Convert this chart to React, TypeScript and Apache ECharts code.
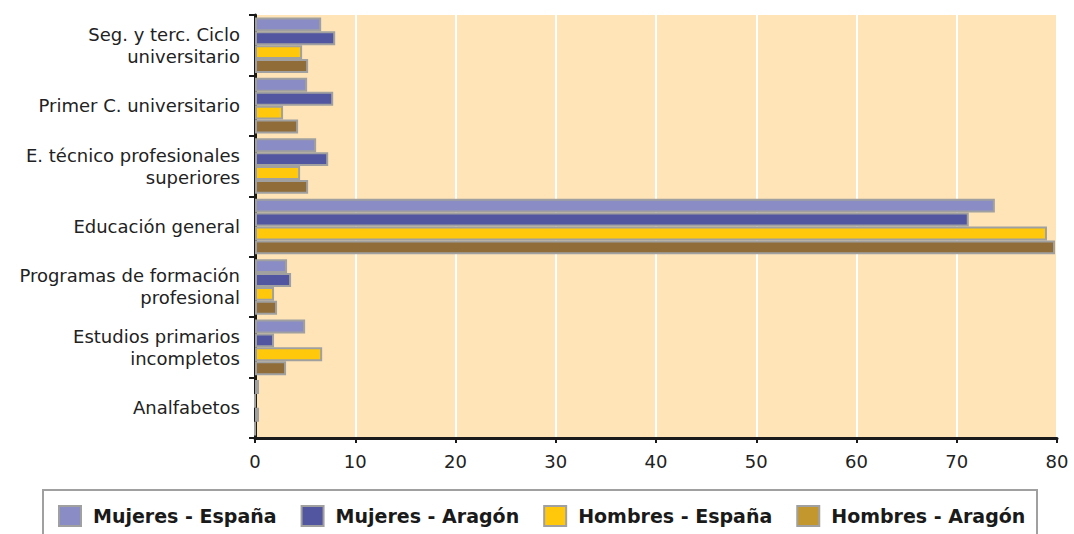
import React, { useEffect, useRef } from "react";
import * as echarts from "echarts";

const categories = [
  "Seg. y terc. Ciclo\nuniversitario",
  "Primer C. universitario",
  "E. técnico profesionales\nsuperiores",
  "Educación general",
  "Programas de formación\nprofesional",
  "Estudios primarios\nincompletos",
  "Analfabetos",
];

const seriesNames = ["Mujeres - España", "Mujeres - Aragón", "Hombres - España", "Hombres - Aragón"];

const mujeresEspana = [6.6, 5.2, 6.1, 73.8, 3.2, 5.0, 0.4];
const mujeresAragon = [8.0, 7.8, 7.3, 71.2, 3.6, 1.9, 0];
const hombresEspana = [4.7, 2.8, 4.5, 79.0, 1.9, 6.7, 0.4];
const hombresAragon = [5.3, 4.3, 5.3, 79.8, 2.2, 3.1, 0];

const xTicks = [0, 10, 20, 30, 40, 50, 60, 70, 80];

const barColors = ["#8A8CC6", "#5255A0", "#FFC80A", "#8F6C38"];
const legendColors = ["#8A8CC6", "#5255A0", "#FFC80A", "#C4972E"];

export default function App() {
  const ref = useRef<HTMLDivElement>(null);
  useEffect(() => {
    document.body.style.margin = "0";
    if (!ref.current) return;
    const chart = echarts.init(ref.current, null, { renderer: "svg" });
    const data = [mujeresEspana, mujeresAragon, hombresEspana, hombresAragon];
    chart.setOption({
      animation: false,
      textStyle: { fontFamily: "DejaVu Sans" },
      grid: {
        left: 255,
        right: 17,
        top: 15,
        bottom: 96,
        show: true,
        backgroundColor: "#FFE4B8",
        borderWidth: 0,
      },
      xAxis: {
        type: "value",
        min: xTicks[0],
        max: xTicks[xTicks.length - 1],
        interval: 10,
        axisLine: { show: true, lineStyle: { color: "#1a1a1a", width: 3 } },
        axisTick: { show: true, length: 5, lineStyle: { color: "#1a1a1a", width: 2 } },
        axisLabel: { color: "#222", fontSize: 18, margin: 14, fontFamily: "DejaVu Sans" },
        splitLine: { show: true, lineStyle: { color: "#ffffff", width: 2 } },
      },
      yAxis: {
        type: "category",
        data: categories,
        inverse: true,
        axisLine: { show: true, lineStyle: { color: "#1a1a1a", width: 3 } },
        axisTick: { show: true, length: 6, lineStyle: { color: "#1a1a1a", width: 2 } },
        axisLabel: {
          color: "#222",
          fontSize: 18,
          margin: 15,
          lineHeight: 22,
          align: "right",
          fontFamily: "DejaVu Sans",
        },
        splitLine: { show: false },
      },
      legend: {
        left: 53,
        top: 500,
        itemWidth: 22,
        itemHeight: 20,
        itemGap: 24,
        icon: "rect",
        textStyle: {
          fontSize: 19,
          fontWeight: "bold",
          color: "#1a1a1a",
          fontFamily: "DejaVu Sans",
          padding: [0, 0, 0, 7],
        },
        data: seriesNames.map((n, i) => ({
          name: n,
          itemStyle: { color: legendColors[i], borderColor: "#A0A0A0", borderWidth: 2 },
        })),
      },
      graphic: [
        {
          type: "rect",
          shape: { x: 43, y: 490, width: 994, height: 70 },
          style: { fill: "none", stroke: "#A0A0A0", lineWidth: 2 },
        },
      ],
      series: seriesNames.map((n, i) => ({
        name: n,
        type: "bar",
        data: data[i],
        barGap: "0%",
        barCategoryGap: "8%",
        itemStyle: { color: barColors[i], borderColor: "#A0A0A0", borderWidth: 2 },
      })),
    });
    return () => chart.dispose();
  }, []);
  return <div ref={ref} style={{ width: 1074, height: 534 }} />;
}
